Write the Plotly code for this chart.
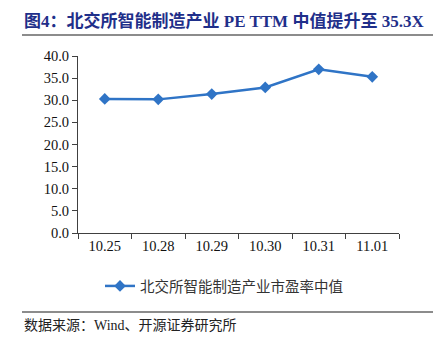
import plotly.graph_objects as go

# Median PE (TTM) of BSE-listed intelligent manufacturing companies
dates = ["10.25", "10.28", "10.29", "10.30", "10.31", "11.01"]
pe_median = [30.3, 30.2, 31.4, 32.9, 37.0, 35.3]
y_ticks = [0, 5, 10, 15, 20, 25, 30, 35, 40]
y_tick_text = [f"{v:.1f}" for v in y_ticks]

series_name = "北交所智能制造产业市盈率中值"
title_text = "图4：北交所智能制造产业 PE TTM 中值提升至 35.3X"
source_text = "数据来源：Wind、开源证券研究所"

W, H = 440, 346
L, R, T, B = 78, 41, 56, 113
plot_w = W - L - R
plot_h = H - T - B


def px_x(px):
    return (px - L) / plot_w


def px_y(py):
    return (H - B - py) / plot_h


serif = "Liberation Serif, Noto Sans CJK SC, serif"
cjk = "Liberation Serif, Noto Sans CJK SC, sans-serif"

fig = go.Figure(
    go.Scatter(
        x=dates,
        y=pe_median,
        mode="lines+markers",
        name=series_name,
        line=dict(color="#2F74C6", width=2.5),
        marker=dict(symbol="diamond", size=9, color="#2F74C6"),
    )
)

fig.update_layout(
    width=W,
    height=H,
    margin=dict(l=L, r=R, t=T, b=B),
    paper_bgcolor="white",
    plot_bgcolor="white",
    showlegend=True,
    legend=dict(
        orientation="h",
        x=px_x(100),
        xanchor="left",
        y=px_y(286),
        yanchor="middle",
        font=dict(family=cjk, size=14.5, color="#333333"),
        itemwidth=30,
        bgcolor="rgba(0,0,0,0)",
    ),
    xaxis=dict(
        type="category",
        showline=True,
        linecolor="#404040",
        linewidth=1,
        ticks="outside",
        tickson="boundaries",
        ticklen=5,
        tickcolor="#404040",
        showgrid=False,
        tickfont=dict(family=serif, size=14.5, color="#111111"),
        range=[-0.5, 5.5],
    ),
    yaxis=dict(
        range=[0, 40],
        tickvals=y_ticks,
        ticktext=y_tick_text,
        showline=True,
        linecolor="#404040",
        linewidth=1,
        ticks="outside",
        ticklen=5,
        tickcolor="#404040",
        showgrid=False,
        zeroline=False,
        tickfont=dict(family=serif, size=14.5, color="#111111"),
    ),
    annotations=[
        dict(
            text=title_text,
            x=px_x(22),
            y=px_y(21),
            xref="paper",
            yref="paper",
            xanchor="left",
            yanchor="middle",
            showarrow=False,
            font=dict(family="Liberation Serif, Noto Sans CJK SC", size=17, color="#1F2F8A", weight="bold"),
        ),
        dict(
            text=source_text,
            x=px_x(22),
            y=px_y(325),
            xref="paper",
            yref="paper",
            xanchor="left",
            yanchor="middle",
            showarrow=False,
            font=dict(family=cjk, size=14, color="#222222"),
        ),
    ],
    shapes=[
        dict(type="line", xref="paper", yref="paper",
             x0=px_x(22), x1=px_x(433), y0=px_y(35), y1=px_y(35),
             line=dict(color="#666666", width=1.5)),
        dict(type="line", xref="paper", yref="paper",
             x0=px_x(22), x1=px_x(433), y0=px_y(312), y1=px_y(312),
             line=dict(color="#666666", width=1.5)),
    ],
)

fig.write_html("out.html")
